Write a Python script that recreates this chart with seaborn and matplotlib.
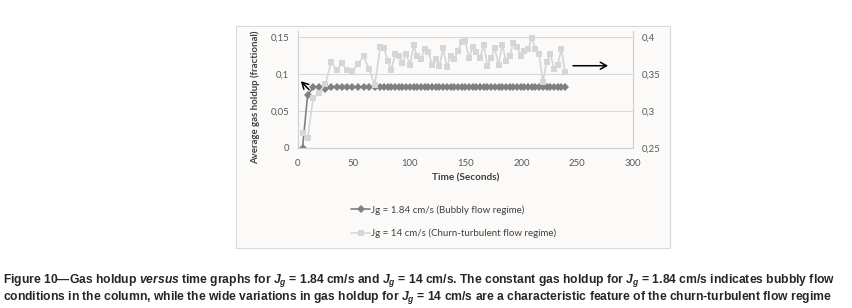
import matplotlib
matplotlib.use("Agg")
import matplotlib.pyplot as plt
from matplotlib.patches import Rectangle
import seaborn as sns

# time axis (s) shared by both runs
time_s = [4.5, 9, 14, 19.5, 25, 30, 35, 40, 44, 49, 54, 59, 64, 69, 74,
          77.3, 80.6, 83.9, 87.2, 90.5, 93.8, 97.1, 100.4, 103.7, 107.0,
          110.3, 113.6, 116.9, 120.2, 123.5, 126.8, 130.1, 133.4, 136.7, 140.0,
          143.3, 146.6, 149.9, 153.2, 156.5, 159.8, 163.1, 166.4, 169.7, 173.0,
          176.3, 179.6, 182.9, 186.2, 189.5, 192.8, 196.1, 199.4, 202.7, 206.0,
          209.3, 212.6, 215.9, 219.2, 222.5, 225.8, 229.1, 232.4, 235.7, 239.0]

# Jg = 1.84 cm/s, left axis
holdup_bubbly = [0.0, 0.071, 0.082, 0.082, 0.080, 0.082, 0.082, 0.082, 0.082, 0.082,
                 0.082, 0.082, 0.082, 0.082, 0.082, 0.082, 0.082, 0.082, 0.082, 0.082,
                 0.082, 0.082, 0.082, 0.082, 0.082, 0.082, 0.082, 0.082, 0.082, 0.082,
                 0.082, 0.082, 0.082, 0.082, 0.082, 0.082, 0.082, 0.082, 0.082, 0.082,
                 0.082, 0.082, 0.082, 0.082, 0.082, 0.082, 0.082, 0.082, 0.082, 0.082,
                 0.082, 0.082, 0.082, 0.082, 0.082, 0.082, 0.082, 0.082, 0.082, 0.082,
                 0.082, 0.082, 0.082, 0.082, 0.082]

# Jg = 14 cm/s, right axis
holdup_churn = [0.270, 0.263, 0.317, 0.325, 0.337, 0.366, 0.356, 0.365, 0.355, 0.354,
                0.364, 0.374, 0.357, 0.335, 0.387,
                0.385, 0.368, 0.356, 0.377, 0.375, 0.365, 0.378, 0.362, 0.389, 0.374,
                0.370, 0.384, 0.380, 0.363, 0.371, 0.361, 0.385, 0.360, 0.374, 0.370,
                0.381, 0.393, 0.395, 0.372, 0.387, 0.380, 0.372, 0.390, 0.361, 0.372,
                0.385, 0.363, 0.390, 0.368, 0.375, 0.392, 0.387, 0.375, 0.382, 0.384,
                0.399, 0.384, 0.377, 0.339, 0.366, 0.378, 0.357, 0.362, 0.384, 0.353]

left_ticks = [0, 0.05, 0.1, 0.15]
left_labels = ["0", "0,05", "0,1", "0,15"]
right_ticks = [0.25, 0.3, 0.35, 0.4]
right_labels = ["0,25", "0,3", "0,35", "0,4"]
x_ticks = [0, 50, 100, 150, 200, 250, 300]

label_bubbly = "Jg = 1.84 cm/s (Bubbly flow regime)"
label_churn = "Jg = 14 cm/s (Churn-turbulent flow regime)"

caption_1 = (r"Figure 10—Gas holdup $\mathit{versus}$ time graphs for $J_g$ = 1.84 cm/s and "
             r"$J_g$ = 14 cm/s. The constant gas holdup for $J_g$ = 1.84 cm/s indicates bubbly flow")
caption_2 = (r"conditions in the column, while the wide variations in gas holdup for $J_g$ = 14 cm/s "
             r"are a characteristic feature of the churn-turbulent flow regime")

sns.set_style("white")
plt.rcParams["font.family"] = ["Lato", "DejaVu Sans"]
plt.rcParams["mathtext.fontset"] = "custom"
plt.rcParams["mathtext.rm"] = "Liberation Sans:bold"
plt.rcParams["mathtext.it"] = "Liberation Sans:italic:bold"

W, H = 852, 308
fig = plt.figure(figsize=(W / 100, H / 100), dpi=100)
fig.patch.set_facecolor("white")

# chart frame
fig.patches.append(Rectangle((236 / W, 1 - 248 / H), (670 - 236) / W, (248 - 26) / H,
                             transform=fig.transFigure, facecolor="#fbfaf9",
                             edgecolor="#d9d9d9", lw=0.8, zorder=-5))

ax = fig.add_axes([297.5 / W, 1 - 147.7 / H, (633.3 - 297.5) / W, (147.7 - 30.7) / H])
ax.set_facecolor("none")
ax2 = ax.twinx()
ax2.set_facecolor("none")

dark = "#808080"
light = "#d6d6d6"
tick_c = "#595959"

sns.lineplot(x=time_s, y=holdup_bubbly, ax=ax, color=dark, marker="D", markersize=3.8,
             markeredgewidth=0, linewidth=1.2, label=label_bubbly, legend=False)
sns.lineplot(x=time_s, y=holdup_churn, ax=ax2, color=light, marker="s", markersize=5,
             markeredgewidth=0, linewidth=1.2, label=label_churn, legend=False)

ax.set_xlim(0, 300)
ax.set_ylim(0, 0.159)
ax2.set_ylim(0.25, 0.409)
ax.set_xticks(x_ticks)
ax.set_xticklabels([str(v) for v in x_ticks])
ax.set_yticks(left_ticks)
ax.set_yticklabels(left_labels)
ax2.set_yticks(right_ticks)
ax2.set_yticklabels(right_labels)

for a in (ax, ax2):
    a.tick_params(axis="y", length=0, labelsize=6.9, colors=tick_c, pad=6)
ax.tick_params(axis="x", length=0, labelsize=6.9, colors=tick_c, pad=8)
for a in (ax, ax2):
    for s in a.spines.values():
        s.set_visible(False)
ax.yaxis.grid(True, color="#d9d9d9", lw=0.8)
ax.set_axisbelow(True)
for a, side in ((ax, "left"), (ax, "bottom"), (ax2, "right")):
    a.spines[side].set_visible(True)
    a.spines[side].set_color("#d0d0d0")
    a.spines[side].set_linewidth(0.8)

ax.set_xlabel("Time (Seconds)", fontsize=7.2, fontweight="bold", color="#404040", labelpad=4)
ax.set_ylabel("Average gas holdup (fractional)", fontsize=6.9, fontweight="bold",
              color="#404040")
ax.yaxis.set_label_coords(-0.112, 0.43)
ax2.set_ylabel("")

# arrows pointing at the matching axis
ax.annotate("", xy=(1.3, 0.093), xytext=(12.1, 0.0761),
            arrowprops=dict(arrowstyle="->,head_length=0.45,head_width=0.25", color="black", lw=1.1))
ax.annotate("", xy=(280, 0.1114), xytext=(243.7, 0.1114),
            arrowprops=dict(arrowstyle="->,head_length=0.45,head_width=0.25", color="black", lw=1.1))

h1, l1 = ax.get_legend_handles_labels()
h2, l2 = ax2.get_legend_handles_labels()
fig.legend(h1 + h2, l1 + l2, loc="center left", bbox_to_anchor=(346 / W, 1 - 221.7 / H),
           frameon=False, fontsize=7.0, labelcolor="#404040", handlelength=2.0,
           handletextpad=0.1, labelspacing=1.45, borderpad=0)

fig.text(0.003, 1 - 280.5 / H, caption_1, fontsize=8.75, fontweight="bold",
         family="Liberation Sans", va="center", ha="left")
fig.text(0.003, 1 - 297.5 / H, caption_2, fontsize=8.75, fontweight="bold",
         family="Liberation Sans", va="center", ha="left")

fig.savefig("out.png", dpi=100, facecolor="white")
